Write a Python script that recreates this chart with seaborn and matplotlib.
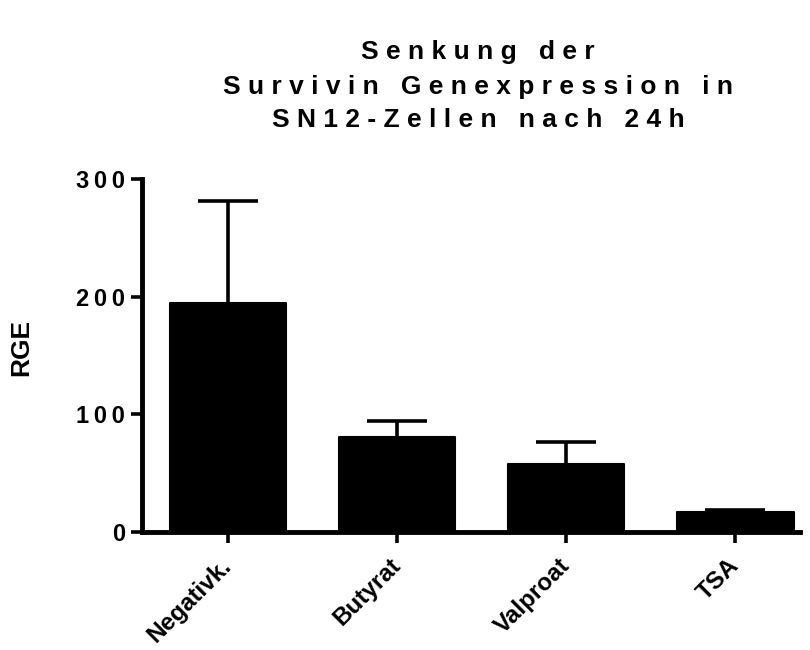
import matplotlib
matplotlib.use("Agg")
import matplotlib.pyplot as plt
import seaborn as sns

# values
gruppen = ["Negativk.", "Butyrat", "Valproat", "TSA"]
rge_mittel = [194.7, 80.7, 58.0, 16.9]
rge_fehler = [86.3, 13.3, 18.4, 1.4]
y_ticks = [0, 100, 200, 300]
titel = ["Senkung der", "Survivin Genexpression in", "SN12-Zellen nach 24h"]


def sperren(text):
    # letter-spaced like the Prism export
    return "   ".join(" ".join(w) for w in text.split(" "))


sns.set_style("ticks", {"axes.edgecolor": "black", "text.color": "black",
                        "axes.labelcolor": "black", "xtick.color": "black",
                        "ytick.color": "black"})
plt.rcParams["font.family"] = ["Liberation Sans", "DejaVu Sans"]
plt.rcParams["font.weight"] = "bold"

fig = plt.figure(figsize=(8.1, 6.5), dpi=100)
ax = fig.add_axes([0.175, 0.182, 0.813, 0.5426])

sns.barplot(x=gruppen, y=rge_mittel, color="black", saturation=1,
            width=0.69, ax=ax, edgecolor="black", linewidth=1.5)
for p in ax.patches:
    p.set_joinstyle("round")

eb = ax.errorbar(range(len(gruppen)), rge_mittel,
                 yerr=[[0] * len(gruppen), rge_fehler],
                 fmt="none", ecolor="black", elinewidth=2.6,
                 capsize=21.5, capthick=2.6)
eb[1][0].set_visible(False)  # nur nach oben

ax.set_xlim(-0.51, 3.385)
ax.set_ylim(0, 300)
ax.set_yticks(y_ticks)
ax.set_yticklabels(["\u2009".join(str(t)) for t in y_ticks],
                   fontsize=17, fontweight="bold")
ax.set_xticks(range(len(gruppen)))
ax.set_xticklabels(gruppen, rotation=45, ha="right", va="center",
                   rotation_mode="anchor", fontsize=17.5, fontweight="bold")
ax.set_ylabel("RGE", fontsize=19, fontweight="bold")
ax.yaxis.set_label_coords(-0.165, 0.523)
ax.set_xlabel("")

sns.despine(ax=ax)
for s in ["left", "bottom"]:
    ax.spines[s].set_linewidth(3.5)
ax.tick_params(width=2.6, length=8, direction="out", pad=4)
ax.tick_params(axis="x", pad=14)

for zeile, y in zip(titel, [0.92, 0.866, 0.815]):
    fig.text(0.59, y, sperren(zeile), ha="center", va="center",
             fontsize=19, fontweight="bold")

fig.savefig("out.png", dpi=100)
